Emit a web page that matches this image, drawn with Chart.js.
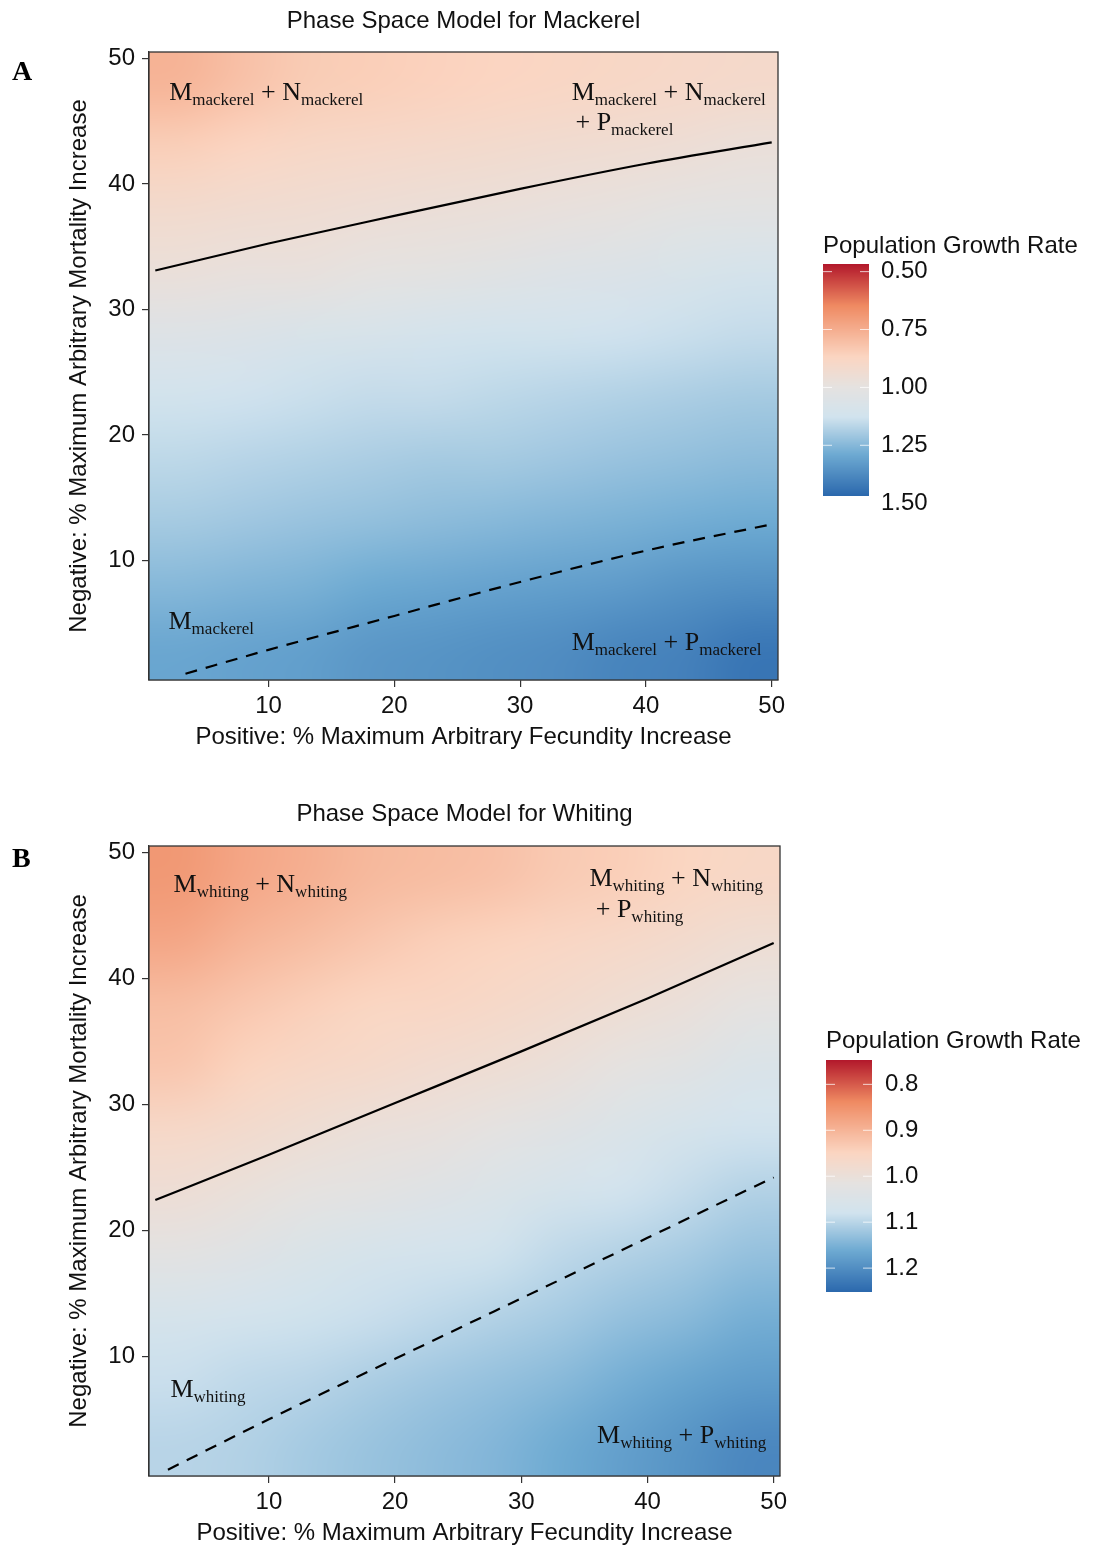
<!DOCTYPE html>
<html>
<head>
<meta charset="utf-8">
<title>Phase Space Models</title>
<script src="https://cdn.jsdelivr.net/npm/chart.js@4.4.1/dist/chart.umd.min.js"></script>
<style>
  html, body { margin: 0; padding: 0; background: #ffffff; }
  canvas { position: absolute; left: 0; display: block; }
  #panelA { top: 0; }
  #panelB { top: 793px; }
</style>
</head>
<body>
<canvas id="panelA" width="1093" height="793"></canvas>
<canvas id="panelB" width="1093" height="753"></canvas>
<script>
// ---- grid of 5 x 5 cells (% fecundity increase along x, % mortality increase along y)
const cellX = [3, 8, 13, 18, 23, 28, 33, 38, 43, 48];
const cellY = [48, 43, 38, 33, 28, 23, 18, 13, 8, 3];
const cellSize = 5;
const axisTicks = [10, 20, 30, 40, 50];

// ---- population growth rate, rows follow cellY (top to bottom), columns follow cellX
const growthMackerel = [
  [0.77, 0.81, 0.84, 0.85, 0.86, 0.87, 0.88, 0.89, 0.90, 0.91],
  [0.85, 0.87, 0.89, 0.90, 0.91, 0.92, 0.93, 0.94, 0.95, 0.97],
  [0.92, 0.93, 0.94, 0.95, 0.96, 0.97, 0.98, 0.99, 1.01, 1.02],
  [0.97, 0.98, 0.98, 1.00, 1.01, 1.03, 1.05, 1.06, 1.08, 1.10],
  [1.05, 1.06, 1.08, 1.09, 1.11, 1.12, 1.12, 1.13, 1.14, 1.15],
  [1.12, 1.13, 1.14, 1.15, 1.15, 1.16, 1.17, 1.18, 1.19, 1.20],
  [1.16, 1.17, 1.18, 1.19, 1.20, 1.20, 1.21, 1.22, 1.23, 1.24],
  [1.20, 1.21, 1.22, 1.23, 1.24, 1.25, 1.26, 1.27, 1.28, 1.29],
  [1.25, 1.26, 1.27, 1.29, 1.30, 1.31, 1.32, 1.33, 1.35, 1.36],
  [1.30, 1.31, 1.32, 1.34, 1.35, 1.36, 1.37, 1.39, 1.40, 1.43]
];
const growthWhiting = [
  [0.860, 0.880, 0.893, 0.907, 0.913, 0.920, 0.933, 0.940, 0.952, 0.960],
  [0.880, 0.900, 0.913, 0.927, 0.940, 0.947, 0.956, 0.964, 0.975, 0.987],
  [0.913, 0.927, 0.940, 0.952, 0.956, 0.964, 0.975, 0.987, 0.999, 1.015],
  [0.927, 0.947, 0.960, 0.968, 0.980, 0.987, 0.999, 1.015, 1.030, 1.050],
  [0.964, 0.975, 0.987, 0.999, 1.007, 1.019, 1.034, 1.050, 1.066, 1.078],
  [0.991, 1.003, 1.015, 1.026, 1.038, 1.050, 1.066, 1.078, 1.091, 1.106],
  [1.023, 1.038, 1.054, 1.066, 1.074, 1.082, 1.096, 1.106, 1.116, 1.130],
  [1.066, 1.074, 1.082, 1.087, 1.096, 1.106, 1.116, 1.130, 1.140, 1.155],
  [1.087, 1.096, 1.101, 1.111, 1.121, 1.130, 1.140, 1.155, 1.170, 1.181],
  [1.101, 1.106, 1.116, 1.126, 1.135, 1.145, 1.160, 1.176, 1.192, 1.209]
];

// ---- colour scale limits and legend breaks
const limitsMackerel = [0.467, 1.469];
const limitsWhiting = [0.747, 1.252];
const legendBreaksMackerel = [0.50, 0.75, 1.00, 1.25, 1.50];
const legendLabelsMackerel = ['0.50', '0.75', '1.00', '1.25', '1.50'];
const legendBreaksWhiting = [0.8, 0.9, 1.0, 1.1, 1.2];
const legendLabelsWhiting = ['0.8', '0.9', '1.0', '1.1', '1.2'];

// ---- boundary lines (solid: upper, dashed: lower)
const mackerelUpperX = [1, 10, 20, 30, 40, 50];
const mackerelUpperY = [33.1, 35.25, 37.45, 39.6, 41.6, 43.3];
const mackerelLowerX = [3.4, 10, 20, 30, 40, 50];
const mackerelLowerY = [1.0, 2.9, 5.6, 8.3, 10.8, 12.9];
const whitingUpperX = [1, 10, 20, 30, 40, 50];
const whitingUpperY = [22.4, 26.0, 30.1, 34.2, 38.4, 42.8];
const whitingLowerX = [2, 10, 20, 30, 40, 50];
const whitingLowerY = [1.0, 5.0, 9.8, 14.6, 19.4, 24.2];

// ---- diverging red-blue palette (position along the colour bar, colour)
const palette = [
  [0.00, '#B2182B'], [0.18, '#EF8A62'], [0.40, '#FBD5C1'], [0.53, '#E5E2E0'],
  [0.66, '#D1E3EE'], [0.82, '#6EAAD2'], [1.00, '#2B68AD']
];
const paletteRgb = palette.map(([p, h]) => [p, [1, 3, 5].map(i => parseInt(h.slice(i, i + 2), 16))]);

function fillColour(v, lim) {
  let t = (v - lim[0]) / (lim[1] - lim[0]);
  t = Math.max(0, Math.min(1, t));
  for (let i = 1; i < paletteRgb.length; i++) {
    const [p1, c1] = paletteRgb[i];
    const [p0, c0] = paletteRgb[i - 1];
    if (t <= p1) {
      const f = (t - p0) / (p1 - p0);
      const c = c0.map((a, k) => Math.round(a + (c1[k] - a) * f));
      return `rgb(${c[0]},${c[1]},${c[2]})`;
    }
  }
  const c = paletteRgb[paletteRgb.length - 1][1];
  return `rgb(${c[0]},${c[1]},${c[2]})`;
}

const SANS = '"Liberation Sans", Arial, Helvetica, sans-serif';
const SERIF = '"Liberation Serif", "Times New Roman", serif';
const INK = '#111111';

// ---- plugins
// Raster of the growth-rate cells, one texel per cell, drawn over the cell extent
// given by the axes and shown with smooth (interpolated) raster rendering.
function heatmapPlugin(grid, lim) {
  return {
    id: 'heatCells',
    beforeDatasetsDraw(chart) {
      const { ctx, chartArea: a, scales: { x, y } } = chart;
      const raster = document.createElement('canvas');
      raster.width = cellX.length;
      raster.height = cellY.length;
      const rctx = raster.getContext('2d');
      cellY.forEach((cy, r) => {
        cellX.forEach((cx, c) => {
          rctx.fillStyle = fillColour(grid[r][c], lim);
          rctx.fillRect(c, r, 1, 1);
        });
      });
      const left = x.getPixelForValue(cellX[0] - cellSize / 2);
      const right = x.getPixelForValue(cellX[cellX.length - 1] + cellSize / 2);
      const top = y.getPixelForValue(cellY[0] + cellSize / 2);
      const bottom = y.getPixelForValue(cellY[cellY.length - 1] - cellSize / 2);
      ctx.save();
      ctx.beginPath();
      ctx.rect(a.left, a.top, a.width, a.height);
      ctx.clip();
      ctx.imageSmoothingEnabled = true;
      ctx.imageSmoothingQuality = 'high';
      ctx.drawImage(raster, left, top, right - left, bottom - top);
      ctx.restore();
    }
  };
}

function drawRich(ctx, x, y, segs) {
  let cx = x;
  ctx.textBaseline = 'alphabetic';
  ctx.textAlign = 'left';
  ctx.fillStyle = INK;
  for (const s of segs) {
    ctx.font = (s.sub ? '17px ' : '26px ') + SERIF;
    ctx.fillText(s.t, cx, s.sub ? y + 5 : y);
    cx += ctx.measureText(s.t).width;
  }
}

function labelsPlugin(labels) {
  return {
    id: 'regionLabels',
    afterDatasetsDraw(chart) {
      const { ctx, scales: { x, y } } = chart;
      ctx.save();
      labels.forEach(l => drawRich(ctx, x.getPixelForValue(l.x), y.getPixelForValue(l.y), l.segs));
      ctx.restore();
    }
  };
}

const framePlugin = {
  id: 'panelFrame',
  afterDatasetsDraw(chart) {
    const { ctx, chartArea: a } = chart;
    ctx.save();
    ctx.strokeStyle = '#333333';
    ctx.lineWidth = 1.3;
    ctx.strokeRect(a.left, a.top, a.width, a.height);
    ctx.restore();
  }
};

function legendPlugin(L) {
  return {
    id: 'colourBar',
    afterDraw(chart) {
      const ctx = chart.ctx;
      ctx.save();
      ctx.fillStyle = INK;
      ctx.font = '24px ' + SANS;
      ctx.textAlign = 'left';
      ctx.textBaseline = 'middle';
      ctx.fillText('Population Growth Rate', L.x, L.titleY);
      for (let py = 0; py < L.h; py++) {
        const v = L.lim[0] + (py + 0.5) / L.h * (L.lim[1] - L.lim[0]);
        ctx.fillStyle = fillColour(v, L.lim);
        ctx.fillRect(L.x, L.top + py, L.w, 1);
      }
      ctx.strokeStyle = 'rgba(255,255,255,0.75)';
      ctx.lineWidth = 1;
      L.breaks.forEach((b, i) => {
        const py = L.top + (b - L.lim[0]) / (L.lim[1] - L.lim[0]) * L.h;
        if (py >= L.top && py <= L.top + L.h) {
          ctx.beginPath();
          ctx.moveTo(L.x, py); ctx.lineTo(L.x + 9, py);
          ctx.moveTo(L.x + L.w - 9, py); ctx.lineTo(L.x + L.w, py);
          ctx.stroke();
        }
        ctx.fillStyle = INK;
        ctx.fillText(L.labels[i], L.labelX, py);
      });
      ctx.font = 'bold 28px ' + SERIF;
      ctx.textBaseline = 'alphabetic';
      ctx.fillStyle = '#000';
      ctx.fillText(L.letter, 12, L.letterY);
      ctx.restore();
    }
  };
}

function line(xs, ys, dashed) {
  return {
    data: xs.map((x, i) => ({ x, y: ys[i] })),
    showLine: true,
    borderColor: '#000000',
    borderWidth: 2.2,
    borderDash: dashed ? [12, 9] : [],
    pointRadius: 0,
    cubicInterpolationMode: 'monotone',
    fill: false
  };
}

function buildPanel(id, o) {
  const tickFont = { family: SANS, size: 24 };
  return new Chart(document.getElementById(id), {
    type: 'scatter',
    data: { datasets: [line(o.upperX, o.upperY, false), line(o.lowerX, o.lowerY, true)] },
    options: {
      responsive: false,
      animation: false,
      devicePixelRatio: 1,
      events: [],
      layout: { padding: { left: 0, right: o.padRight, top: 0, bottom: 0 } },
      plugins: {
        legend: { display: false },
        tooltip: { enabled: false },
        title: {
          display: true, text: o.title, fullSize: false, color: INK,
          font: { family: SANS, size: 24, weight: 'normal', lineHeight: 1.2 },
          padding: { top: 6.6, bottom: o.titlePadBottom }
        }
      },
      scales: {
        x: {
          type: 'linear', min: 0.5, max: 50.5,
          afterBuildTicks: s => { s.ticks = axisTicks.map(v => ({ value: v })); },
          afterFit: s => { s.height = o.xAxisHeight; },
          grid: { drawOnChartArea: false, drawTicks: true, tickLength: 7, color: '#333333', lineWidth: 1.2 },
          border: { display: true, color: '#333333', width: 1.3 },
          ticks: { font: tickFont, color: INK, padding: 5, maxRotation: 0, autoSkip: false },
          title: {
            display: true, text: 'Positive: % Maximum Arbitrary Fecundity Increase', color: INK,
            font: { family: SANS, size: 24, lineHeight: 1 }, padding: { top: 0, bottom: o.xTitlePad }
          }
        },
        y: {
          type: 'linear', min: 0.5, max: 50.5,
          afterBuildTicks: s => { s.ticks = axisTicks.map(v => ({ value: v })); },
          afterFit: s => { s.width = 149; },
          grid: { drawOnChartArea: false, drawTicks: true, tickLength: 7, color: '#333333', lineWidth: 1.2 },
          border: { display: true, color: '#333333', width: 1.3 },
          ticks: { font: tickFont, color: INK, padding: 7, autoSkip: false },
          title: {
            display: true, text: 'Negative: % Maximum Arbitrary Mortality Increase', color: INK,
            font: { family: SANS, size: 24, lineHeight: 1 }, padding: { top: 67, bottom: 0 }
          }
        }
      }
    },
    plugins: [heatmapPlugin(o.grid, o.lim), framePlugin, labelsPlugin(o.labels), legendPlugin(o.legend)]
  });
}

const M = 'mackerel', W = 'whiting';

buildPanel('panelA', {
  title: 'Phase Space Model for Mackerel',
  grid: growthMackerel, lim: limitsMackerel,
  upperX: mackerelUpperX, upperY: mackerelUpperY, lowerX: mackerelLowerX, lowerY: mackerelLowerY,
  padRight: 315, titlePadBottom: 16.6, xAxisHeight: 113, xTitlePad: 44,
  labels: [
    { x: 2.1, y: 46.7, segs: [{ t: 'M' }, { t: M, sub: 1 }, { t: ' + ' }, { t: 'N' }, { t: M, sub: 1 }] },
    { x: 34.1, y: 46.7, segs: [{ t: 'M' }, { t: M, sub: 1 }, { t: ' + ' }, { t: 'N' }, { t: M, sub: 1 }] },
    { x: 34.4, y: 44.3, segs: [{ t: '+ ' }, { t: 'P' }, { t: M, sub: 1 }] },
    { x: 2.05, y: 4.6, segs: [{ t: 'M' }, { t: M, sub: 1 }] },
    { x: 34.1, y: 2.85, segs: [{ t: 'M' }, { t: M, sub: 1 }, { t: ' + ' }, { t: 'P' }, { t: M, sub: 1 }] }
  ],
  legend: {
    x: 823, w: 46, top: 264, h: 232, titleY: 246, labelX: 881,
    lim: limitsMackerel, breaks: legendBreaksMackerel, labels: legendLabelsMackerel,
    letter: 'A', letterY: 80
  }
});

buildPanel('panelB', {
  title: 'Phase Space Model for Whiting',
  grid: growthWhiting, lim: limitsWhiting,
  upperX: whitingUpperX, upperY: whitingUpperY, lowerX: whitingLowerX, lowerY: whitingLowerY,
  padRight: 313, titlePadBottom: 17.6, xAxisHeight: 70, xTitlePad: 1,
  labels: [
    { x: 2.45, y: 46.85, segs: [{ t: 'M' }, { t: W, sub: 1 }, { t: ' + ' }, { t: 'N' }, { t: W, sub: 1 }] },
    { x: 35.4, y: 47.3, segs: [{ t: 'M' }, { t: W, sub: 1 }, { t: ' + ' }, { t: 'N' }, { t: W, sub: 1 }] },
    { x: 35.9, y: 44.9, segs: [{ t: '+ ' }, { t: 'P' }, { t: W, sub: 1 }] },
    { x: 2.2, y: 6.8, segs: [{ t: 'M' }, { t: W, sub: 1 }] },
    { x: 36.0, y: 3.1, segs: [{ t: 'M' }, { t: W, sub: 1 }, { t: ' + ' }, { t: 'P' }, { t: W, sub: 1 }] }
  ],
  legend: {
    x: 826, w: 46, top: 267, h: 232, titleY: 248, labelX: 885,
    lim: limitsWhiting, breaks: legendBreaksWhiting, labels: legendLabelsWhiting,
    letter: 'B', letterY: 74
  }
});
</script>
</body>
</html>
